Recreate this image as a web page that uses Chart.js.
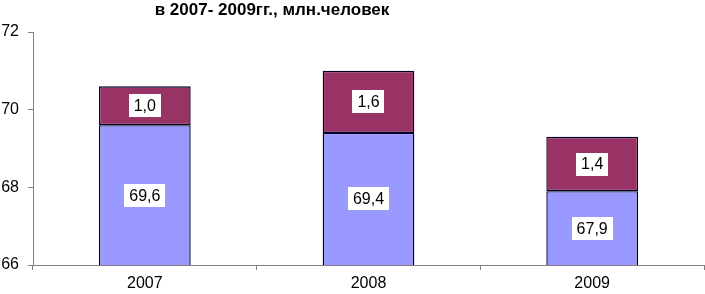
<!DOCTYPE html>
<html>
<head>
<meta charset="utf-8">
<script src="https://cdn.jsdelivr.net/npm/chart.js@4"></script>
<style>
  html, body { margin: 0; padding: 0; background: #fff; }
  #wrap { width: 705px; height: 294px; }
</style>
</head>
<body>
<div id="wrap"><canvas id="chart"></canvas></div>
<script>
const years = ['2007', '2008', '2009'];
const baseValues = [69.6, 69.4, 67.9];
const topValues = [1.0, 1.6, 1.4];
const titleText = 'в 2007- 2009гг., млн.человек';

const FONT = '"Liberation Sans", Arial, sans-serif';

function fmt(v) {
    return v.toFixed(1).replace('.', ',');
}

// white boxes with values in the middle of each segment
const boxLabels = {
    id: 'boxLabels',
    afterDatasetsDraw(chart) {
        const ctx = chart.ctx;
        const area = chart.chartArea;
        ctx.save();
        ctx.font = '16px ' + FONT;
        ctx.textAlign = 'center';
        ctx.textBaseline = 'middle';
        chart.data.datasets.forEach(function(ds, i) {
            chart.getDatasetMeta(i).data.forEach(function(bar, j) {
                const bottom = Math.min(bar.base, area.bottom);
                const cy = (bar.y + bottom) / 2;
                const txt = fmt(ds.data[j]);
                const w = ctx.measureText(txt).width + 10;
                const h = 23;
                ctx.fillStyle = '#fff';
                ctx.fillRect(Math.round(bar.x - w / 2), Math.round(cy - h / 2), Math.round(w), h);
                ctx.fillStyle = '#000';
                ctx.fillText(txt, bar.x, cy + 1);
            });
        });
        ctx.restore();
    }
};

const topTitle = {
    id: 'topTitle',
    afterDraw(chart) {
        const ctx = chart.ctx;
        ctx.save();
        ctx.font = 'bold 17px ' + FONT;
        ctx.fillStyle = '#000';
        ctx.textAlign = 'center';
        ctx.textBaseline = 'alphabetic';
        ctx.fillText(titleText, 272, 15);
        ctx.restore();
    }
};

new Chart(document.getElementById('chart'), {
    type: 'bar',
    data: {
        labels: years,
        datasets: [
            {
                label: 'base',
                data: baseValues,
                backgroundColor: '#9999FF',
                borderColor: '#000028',
                borderWidth: 1.4,
                borderSkipped: false,
                categoryPercentage: 1,
                barPercentage: 0.41
            },
            {
                label: 'top',
                data: topValues,
                backgroundColor: '#993366',
                borderColor: '#000028',
                borderWidth: 1.4,
                borderSkipped: false,
                categoryPercentage: 1,
                barPercentage: 0.41
            }
        ]
    },
    options: {
        responsive: true,
        maintainAspectRatio: false,
        animation: false,
        layout: { padding: { top: 32, right: 1, left: 0, bottom: 0 } },
        plugins: {
            legend: { display: false },
            tooltip: { enabled: false },
            title: { display: false }
        },
        scales: {
            x: {
                stacked: true,
                grid: {
                    offset: true,
                    drawOnChartArea: false,
                    drawTicks: true,
                    tickLength: 5,
                    color: '#808080'
                },
                border: { color: '#808080' },
                ticks: {
                    color: '#000',
                    font: { family: FONT, size: 16 },
                    padding: 4
                },
                afterFit(scale) { scale.height = 29; }
            },
            y: {
                stacked: true,
                min: 66,
                max: 72,
                grid: {
                    drawOnChartArea: false,
                    drawTicks: true,
                    tickLength: 5,
                    color: '#808080'
                },
                border: { color: '#808080' },
                ticks: {
                    stepSize: 2,
                    color: '#000',
                    font: { family: FONT, size: 16 },
                    padding: 9
                },
                afterFit(scale) { scale.width = 33; }
            }
        }
    },
    plugins: [boxLabels, topTitle]
});
</script>
</body>
</html>
